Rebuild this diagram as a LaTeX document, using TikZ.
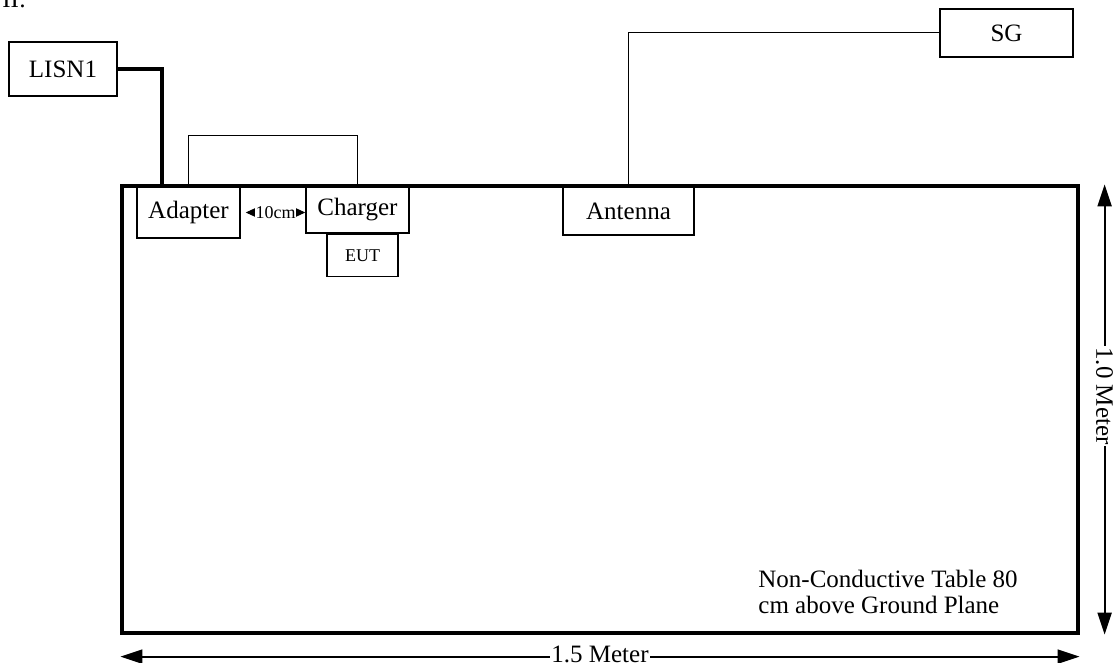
\documentclass[tikz,border=0pt]{standalone}
\usepackage{fontspec}
\setmainfont{Liberation Serif}
\usetikzlibrary{arrows.meta,positioning}

\begin{document}
\begin{tikzpicture}[x=0.5pt, y=-0.5pt,
    font=\fontsize{12.5}{13}\selectfont,
    unit/.style={draw, line width=0.75pt, fill=white, inner sep=0pt},
    small/.style={font=\fontsize{9}{10}\selectfont},
    wire/.style={line width=0.5pt},
    cable/.style={line width=1.6pt},
    dimarr/.style={{Triangle[length=11pt,width=7pt]}-{Triangle[length=11pt,width=7pt]}, line width=1pt},
    gaparr/.style={{Triangle[length=5pt,width=4.5pt]}-{Triangle[length=5pt,width=4.5pt]}, line width=0.5pt}
  ]
  \useasboundingbox (0,0) rectangle (1113,663);
  \node[anchor=base west, inner sep=0pt] (part) at (2,8) {II:};
  % table
  \node[draw, line width=1.6pt, inner sep=0pt, minimum width=478pt, minimum height=223.5pt] (table) at (600,409.5) {};
  \node[anchor=north west, align=left, inner sep=0pt] (note) at (758,570) {Non-Conductive Table 80\\cm above Ground Plane};
  % equipment
  \node[unit, minimum width=54pt, minimum height=27pt] (lisn) at (63,69) {LISN1};
  \node[unit, minimum width=51.5pt, minimum height=25.5pt] (adapter) at (188.5,212.5) {Adapter};
  \node[unit, minimum width=51.5pt, minimum height=23pt] (charger) at (357.5,210) {Charger};
  \node[unit, small, minimum width=35.5pt, minimum height=21pt, below=0pt of charger, xshift=2.5pt] (eut) {EUT};
  \node[unit, minimum width=65.5pt, minimum height=24pt] (antenna) at (628.5,211) {Antenna};
  \node[unit, minimum width=66.5pt, minimum height=24pt] (sg) at (1006.5,33) {SG};
  % cables
  \draw[cable] (lisn.east) -| ([xshift=-13.25pt]adapter.north);
  \draw[wire] (adapter.north) -- ++(0,-51) -| (charger.north);
  \draw[wire] (antenna.north) |- (sg.west);
  \draw[gaparr] ([xshift=2.5pt]adapter.east) -- (adapter.east -| charger.west)
    node[midway, small, fill=white, inner sep=0.3pt] {10cm};
  % dimensions
  \draw[dimarr] ([yshift=-11pt]table.south west) -- ([yshift=-11pt]table.south east)
    node[midway, fill=white, inner sep=0.5pt, yshift=1pt] {1.5 Meter};
  \draw[dimarr] ([xshift=12.5pt]table.north east) -- ([xshift=12.5pt]table.south east)
    node[pos=0.47, rotate=-90, fill=white, inner sep=0.5pt] {1.0 Meter};
\end{tikzpicture}
\end{document}
